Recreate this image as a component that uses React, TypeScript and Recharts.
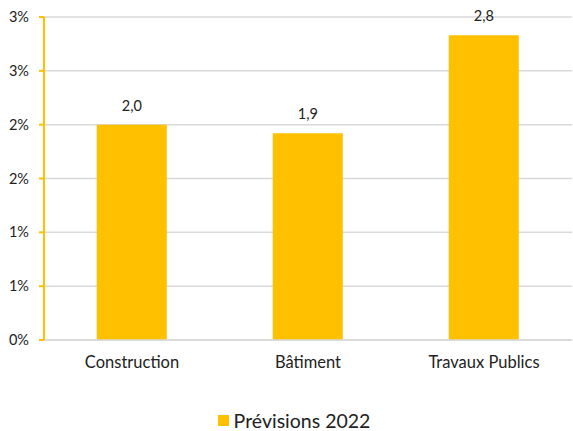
import { Bar, BarChart, CartesianGrid, LabelList, Legend, XAxis, YAxis } from 'recharts';

const categories = ['Construction', 'Bâtiment', 'Travaux Publics'];
const previsions2022 = [2.0, 1.92, 2.83];
const yTicks = [0, 0.5, 1, 1.5, 2, 2.5, 3];

const FONT = 'Lato, "Noto Sans", sans-serif';
const GOLD = '#FFC000';

const data = categories.map((name, i) => ({ name, value: previsions2022[i] }));

function LegendBox() {
  return (
    <div
      style={{
        height: 40,
        display: 'flex',
        alignItems: 'flex-end',
        justifyContent: 'center',
        fontFamily: FONT,
        fontSize: 19.5,
        color: '#222',
        paddingLeft: 16,
      }}
    >
      <span style={{ display: 'inline-block', width: 11, height: 11, background: GOLD, marginRight: 5, marginBottom: 5 }} />
      <span style={{ lineHeight: '20px' }}>Prévisions 2022</span>
    </div>
  );
}

export default function App() {
  return (
    <div style={{ position: 'absolute', left: 0, top: 0, background: '#fff' }}>
      <BarChart
        width={573}
        height={431}
        data={data}
        margin={{ top: 17, right: 1, bottom: 0, left: 0 }}
        barCategoryGap="30%"
      >
        <CartesianGrid vertical={false} stroke="#D9D9D9" strokeWidth={1.5} />
        <XAxis
          dataKey="name"
          height={51}
          tickLine={false}
          axisLine={{ stroke: '#D9D9D9', strokeWidth: 1.5 }}
          tickSize={0}
          tickMargin={16}
          tick={{ fill: '#222', fontSize: 16.5, fontFamily: FONT }}
        />
        <YAxis
          domain={[0, 3]}
          ticks={yTicks}
          width={44}
          interval={0}
          tickSize={5}
          tickMargin={10}
          axisLine={{ stroke: GOLD, strokeWidth: 2 }}
          tickLine={{ stroke: GOLD, strokeWidth: 2 }}
          tick={{ fill: '#222', fontSize: 14.5, fontFamily: FONT }}
          tickFormatter={(v: number) => `${Math.round(v)}%`}
        />
        <Legend verticalAlign="bottom" height={40} content={() => <LegendBox />} />
        <Bar dataKey="value" fill={GOLD} isAnimationActive={false}>
          <LabelList
            dataKey="value"
            position="top"
            offset={14}
            fill="#222"
            fontSize={14.5}
            fontFamily={FONT}
            formatter={(v: number) => v.toFixed(1).replace('.', ',')}
          />
        </Bar>
      </BarChart>
    </div>
  );
}
